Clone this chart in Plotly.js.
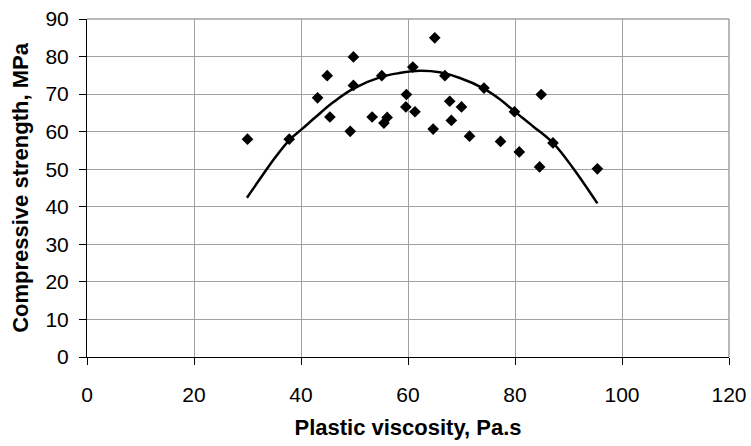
<!DOCTYPE html>
<html>
<head>
<meta charset="utf-8">
<script src="https://cdn.plot.ly/plotly-3.0.1.min.js"></script>
<style>html,body{margin:0;padding:0;background:#fff;}#chart{width:751px;height:446px;}</style>
</head>
<body>
<div id="chart"></div>
<script>
// Measured data points
const viscosity = [30, 37.8, 43.1, 44.9, 45.4, 49.8, 49.8, 49.2, 53.3, 55.1, 55.5, 56.1, 59.7, 59.6,
  60.9, 61.3, 65.0, 64.7, 66.9, 67.8, 68.1, 70.0, 71.5, 74.2, 77.3, 79.9, 80.8, 84.9, 84.6, 87.1, 95.4];
const strength = [58, 58, 69, 74.9, 63.9, 79.9, 72.3, 60.1, 63.9, 74.9, 62.3, 63.8, 69.9, 66.6,
  77.2, 65.3, 85.0, 60.7, 74.9, 68.1, 63.0, 66.6, 58.8, 71.6, 57.4, 65.3, 54.6, 69.9, 50.6, 57.0, 50.1];
// Trend curve
const trendX = [29.9, 32.9, 35.1, 37.9, 40.1, 42.9, 46.0, 49.7, 55.0, 58.4, 62.2, 65.9, 69.7, 74.0, 77.1, 79.9, 83.4, 87.1, 90.8, 95.4];
const trendY = [42.4, 48.6, 53.0, 57.9, 60.6, 64.1, 67.8, 71.4, 74.6, 75.6, 76.2, 75.8, 74.3, 71.6, 68.7, 65.4, 61.4, 57.0, 50.4, 40.9];

const xTitle = "Plastic viscosity, Pa.s";
const yTitle = "Compressive strength, MPa";

const font = "Liberation Sans, Arial, sans-serif";

const traces = [
  {
    x: trendX, y: trendY, type: "scatter", mode: "lines",
    line: {color: "#000", width: 2.5, shape: "spline"},
    hoverinfo: "skip", showlegend: false
  },
  {
    x: viscosity, y: strength, type: "scatter", mode: "markers",
    marker: {symbol: "diamond", size: 9, color: "#000"},
    showlegend: false
  }
];

const layout = {
  width: 751, height: 446,
  margin: {l: 87, r: 22, t: 19, b: 89},
  paper_bgcolor: "#fff", plot_bgcolor: "#fff",
  font: {family: font, color: "#000", size: 21},
  xaxis: {
    range: [0, 120], dtick: 20, tick0: 0,
    showgrid: true, gridcolor: "#a0a0a0", gridwidth: 1,
    showline: true, linecolor: "#000", linewidth: 1,
    ticks: "outside", ticklen: 7, tickcolor: "#000",
    ticklabelstandoff: 12,
    zeroline: false,
    tickfont: {family: font, size: 21, color: "#000"},
    title: {text: xTitle, font: {family: font, size: 22, color: "#000", weight: "bold"}, standoff: 14}
  },
  yaxis: {
    range: [0, 90], dtick: 10, tick0: 0,
    showgrid: true, gridcolor: "#a0a0a0", gridwidth: 1,
    showline: true, linecolor: "#000", linewidth: 1,
    ticks: "outside", ticklen: 7, tickcolor: "#000",
    ticklabelstandoff: 6,
    zeroline: false,
    tickfont: {family: font, size: 21, color: "#000"},
    title: {text: yTitle, font: {family: font, size: 22, color: "#000", weight: "bold"}, standoff: 10}
  },
  shapes: [
    {type: "line", xref: "paper", yref: "paper", x0: 0, x1: 1, y0: 1, y1: 1, line: {color: "#a0a0a0", width: 1.5}},
    {type: "line", xref: "paper", yref: "paper", x0: 1, x1: 1, y0: 0, y1: 1, line: {color: "#a0a0a0", width: 1.5}}
  ]
};

Plotly.newPlot("chart", traces, layout, {displayModeBar: false, staticPlot: true});
</script>
</body>
</html>
